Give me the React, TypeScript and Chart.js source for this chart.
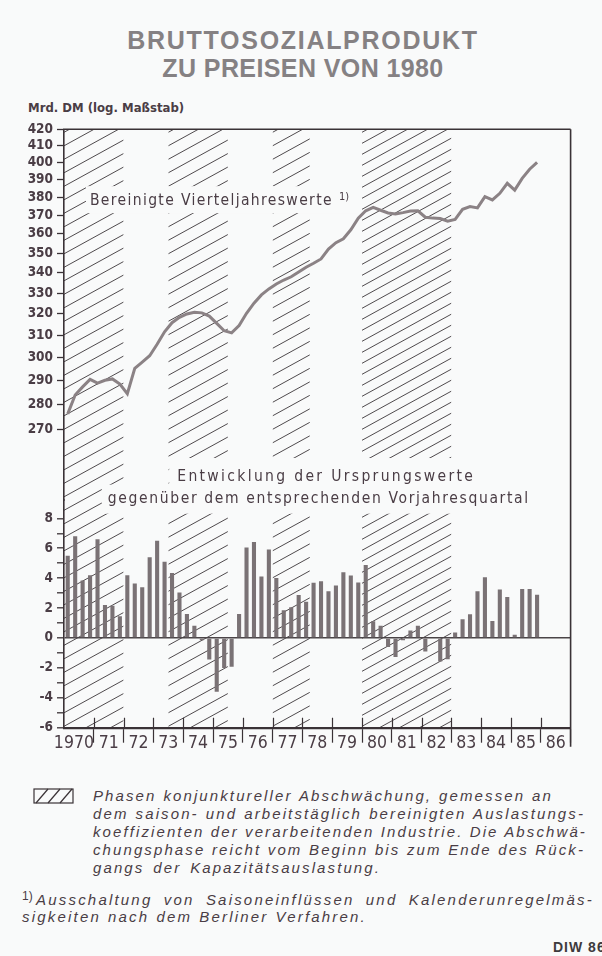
import React, { useEffect, useRef } from "react";
import { Chart, registerables } from "chart.js";

Chart.register(...registerables);

// ---------- data ----------
const firstYear = 1970;
const yearTicks = [1970, 1971, 1972, 1973, 1974, 1975, 1976, 1977, 1978, 1979, 1980, 1981, 1982, 1983, 1984, 1985, 1986, 1987];
const yearLabels = ["1970  ", "71", "72", "73", "74", "75", "76", "77", "78", "79", "80", "81", "82", "83", "84", "85", "86"];

// Bruttosozialprodukt, bereinigte Vierteljahreswerte, Mrd. DM (1970 Q1 .. 1985 Q4)
const gnpValues = [
  276.2, 284.0, 287.4, 290.6,
  289.0, 290.2, 290.8, 288.6,
  284.5, 295.4, 298.1, 300.9,
  306.0, 311.7, 315.9, 318.4,
  320.0, 320.8, 320.5, 319.0,
  315.6, 312.2, 311.2, 314.6,
  320.3, 325.1, 329.1, 332.0,
  334.4, 336.4, 338.0, 340.4,
  342.8, 344.8, 347.0, 352.1,
  355.4, 357.5, 362.2, 368.5,
  372.5, 374.4, 372.8, 371.3,
  370.8, 371.5, 372.4, 372.5,
  369.0, 368.5, 368.3, 366.8,
  367.8, 373.3, 374.8, 374.1,
  380.3, 378.5, 382.2, 387.9,
  384.0, 390.7, 396.0, 400.0,
];

// Veraenderung gegenueber Vorjahresquartal in % (1970 Q1 .. 1985 Q4)
const growthValues = [
  5.5, 6.8, 3.85, 4.2,
  6.6, 2.2, 2.15, 1.45,
  4.2, 3.65, 3.4, 5.4,
  6.5, 5.1, 4.35, 3.05,
  1.6, 0.82, -0.15, -1.43,
  -3.6, -2.0, -1.92, 1.6,
  6.05, 6.42, 4.12, 5.92,
  4.02, 1.85, 2.05, 2.88,
  2.43, 3.7, 3.8, 3.13,
  3.51, 4.4, 4.18, 3.71,
  4.88, 1.12, 0.82, -0.6,
  -1.27, -0.15, 0.5, 0.82,
  -0.9, -0.05, -1.57, -1.42,
  0.36, 1.25, 1.59, 3.13,
  4.07, 1.14, 3.24, 2.75,
  0.22, 3.27, 3.27, 2.89,
];

// Phasen konjunktureller Abschwaechung (Jahresbruchteile)
const phaseStart = [1970, 1973.5, 1977, 1980];
const phaseEnd = [1972, 1975.5, 1978.25, 1983];

const gnpTicks = [270, 280, 290, 300, 310, 320, 330, 340, 350, 360, 370, 380, 390, 400, 410, 420];
const growthTicks = [-6, -5, -4, -3, -2, -1, 0, 1, 2, 3, 4, 5, 6, 7, 8];

// ---------- styles ----------
const BG = "#f9fafa";
const INK = "#4a3d45";
const AXIS = "#3a3236";
const HATCH = "#4f4a4d";
const LINE = "#8b8285";
const BAR = "#7a7275";

const quarterX = (i: number) => firstYear + Math.floor(i / 4) + ((i % 4) + 0.5) / 4;

function drawFitted(ctx: CanvasRenderingContext2D, text: string, x: number, y: number, font: string, target: number, align: "left" | "center") {
  ctx.font = font;
  (ctx as any).letterSpacing = "0px";
  const w0 = ctx.measureText(text).width;
  const ls = (target - w0) / text.length;
  (ctx as any).letterSpacing = ls + "px";
  ctx.textAlign = "left";
  const startX = align === "center" ? x - target / 2 : x;
  ctx.fillText(text, startX, y);
  (ctx as any).letterSpacing = "0px";
  return startX;
}

const decor = {
  id: "decor",
  beforeDraw(chart: any) {
    const { ctx, chartArea: a, scales } = chart;
    const xs = scales.x;
    const yL = scales.yL;
    const yB = scales.yB;
    ctx.save();
    // hatched bands
    phaseStart.forEach((s, i) => {
      const x1 = xs.getPixelForValue(s);
      const x2 = xs.getPixelForValue(phaseEnd[i]);
      const gap = i === 3 ? 11 : 13.5;
      const rise = (x2 - x1) * 0.55;
      ctx.save();
      ctx.beginPath();
      ctx.rect(x1, a.top, x2 - x1, a.bottom - a.top);
      ctx.clip();
      ctx.beginPath();
      for (let y = a.top + 3; y < a.bottom + rise + gap; y += gap) {
        ctx.moveTo(x1, y);
        ctx.lineTo(x2, y - rise);
      }
      ctx.strokeStyle = HATCH;
      ctx.lineWidth = 1;
      ctx.stroke();
      ctx.restore();
    });

    ctx.fillStyle = INK;
    ctx.textBaseline = "alphabetic";
    const font = '15.5px "DejaVu Sans Condensed", sans-serif';

    // label upper chart
    const lx = xs.getPixelForValue(1970.87);
    const ly = yL.getPixelForValue(375.6);
    ctx.fillStyle = BG;
    ctx.fillRect(lx - 4, ly - 19, 272, 27);
    ctx.fillStyle = INK;
    drawFitted(ctx, "Bereinigte Vierteljahreswerte", lx, ly, font, 243, "left");
    ctx.font = '11px "DejaVu Sans Condensed", sans-serif';
    ctx.fillText("1)", lx + 249, ly - 5);

    // label lower chart
    const c1 = xs.getPixelForValue(1978.8);
    const b1 = yB.getPixelForValue(10.5);
    const c2 = xs.getPixelForValue(1978.55);
    const b2 = yB.getPixelForValue(9.05);
    ctx.fillStyle = BG;
    ctx.fillRect(c1 - 157, b1 - 23, 314, 30);
    ctx.fillRect(c2 - 217, b2 - 18, 434, 29);
    ctx.fillStyle = INK;
    drawFitted(ctx, "Entwicklung der Ursprungswerte", c1, b1, font, 298, "center");
    drawFitted(ctx, "gegenüber dem entsprechenden Vorjahresquartal", c2, b2, font, 422, "center");
    ctx.restore();
  },
  afterDraw(chart: any) {
    const { ctx, chartArea: a, scales } = chart;
    const xs = scales.x;
    ctx.save();
    ctx.strokeStyle = AXIS;
    ctx.lineWidth = 1.6;
    ctx.beginPath();
    ctx.moveTo(a.left - 1, a.top);
    ctx.lineTo(a.right, a.top);
    ctx.moveTo(a.right, a.top);
    ctx.lineTo(a.right, a.bottom + 19);
    ctx.stroke();
    ctx.lineWidth = 1.2;
    ctx.beginPath();
    yearTicks.slice(1, -1).forEach((v) => {
      const px = Math.round(xs.getPixelForValue(v)) + 0.5;
      ctx.moveTo(px, a.bottom);
      ctx.lineTo(px, a.bottom - 10);
    });
    ctx.stroke();
    ctx.restore();
  },
};

const tickFont = { family: '"DejaVu Sans Condensed", sans-serif', size: 13.5, weight: "bold" as const };

export default function App() {
  const ref = useRef<HTMLCanvasElement>(null);

  useEffect(() => {
    const canvas = ref.current;
    if (!canvas) return;
    const lineData = gnpValues.map((v, i) => ({ x: quarterX(i), y: v }));
    const barData = growthValues.map((v, i) => ({ x: quarterX(i), y: v }));

    const chart = new Chart(canvas, {
      type: "bar",
      data: {
        datasets: [
          {
            type: "line",
            data: lineData as any,
            xAxisID: "x",
            yAxisID: "yL",
            borderColor: LINE,
            borderWidth: 3,
            pointRadius: 0,
            tension: 0,
            order: 0,
          } as any,
          {
            type: "bar",
            data: barData as any,
            xAxisID: "x",
            yAxisID: "yB",
            backgroundColor: BAR,
            borderWidth: 0,
            barPercentage: 0.55,
            categoryPercentage: 1,
            order: 1,
          } as any,
        ],
      },
      options: {
        responsive: false,
        animation: false,
        events: [],
        layout: { padding: { top: 19.3, right: 31.4, left: 0, bottom: 0 } },
        plugins: { legend: { display: false }, tooltip: { enabled: false }, title: { display: false } },
        scales: {
          x: {
            type: "linear",
            position: "bottom",
            min: 1970,
            max: 1987,
            offset: false,
            afterBuildTicks: (s: any) => {
              s.ticks = yearTicks.map((v) => ({ value: v }));
            },
            afterFit: (s: any) => {
              s.height = 42.3;
            },
            ticks: {
              autoSkip: false,
              maxRotation: 0,
              minRotation: 0,
              labelOffset: 14.9,
              padding: -9.5,
              color: INK,
              font: { family: '"DejaVu Sans Condensed", sans-serif', size: 17.5 },
              callback: (v: any) => yearLabels[Number(v) - firstYear] ?? "",
            },
            grid: {
              offset: false,
              drawOnChartArea: false,
              drawTicks: true,
              tickLength: 15,
              tickWidth: 1.2,
              tickColor: (c: any) => (c.index === 0 ? "rgba(0,0,0,0)" : AXIS),
            },
            border: { display: true, color: AXIS, width: 2.2 },
          },
          yL: {
            type: "logarithmic",
            position: "left",
            stack: "left",
            stackWeight: 370.7,
            weight: 1,
            min: 243.3,
            max: 420,
            afterBuildTicks: (s: any) => {
              s.ticks = gnpTicks.map((v) => ({ value: v }));
            },
            afterFit: (s: any) => {
              s.width = 64;
            },
            ticks: {
              autoSkip: false,
              padding: 4,
              color: INK,
              font: tickFont,
              callback: (v: any) => String(v),
            },
            grid: {
              drawOnChartArea: false,
              drawTicks: true,
              tickLength: 7,
              tickWidth: 1.3,
              tickColor: AXIS,
            },
            border: { display: true, color: AXIS, width: 1.6 },
          },
          yB: {
            type: "linear",
            position: "left",
            stack: "left",
            stackWeight: 227.7,
            weight: 0,
            min: -6,
            max: 9.23,
            afterBuildTicks: (s: any) => {
              s.ticks = growthTicks.map((v) => ({ value: v }));
            },
            afterFit: (s: any) => {
              s.width = 64;
            },
            ticks: {
              autoSkip: false,
              padding: 4,
              color: INK,
              font: tickFont,
              callback: (v: any) => (Number(v) % 2 === 0 ? String(v) : ""),
            },
            grid: {
              drawOnChartArea: true,
              drawTicks: true,
              tickLength: 7,
              tickWidth: 1.3,
              tickColor: AXIS,
              lineWidth: 1.6,
              color: (c: any) => (c.tick && c.tick.value === 0 ? "#4a4447" : "rgba(0,0,0,0)"),
            },
            border: { display: true, color: AXIS, width: 1.6 },
          },
        } as any,
      },
      plugins: [decor as any],
    });
    return () => chart.destroy();
  }, []);

  const legendLine: React.CSSProperties = {
    whiteSpace: "nowrap",
    textAlign: "justify",
    textAlignLast: "justify" as any,
    height: 18,
    boxSizing: "border-box",
  };

  const titleLine: React.CSSProperties = {
    position: "absolute",
    left: 2,
    width: 602,
    textAlign: "center",
    font: 'bold 25px "Liberation Sans", Arial, sans-serif',
    lineHeight: "28px",
    color: "#858183",
    whiteSpace: "nowrap",
  };

  return (
    <div
      style={{
        position: "absolute",
        left: 0,
        top: 0,
        width: 602,
        height: 956,
        background: BG,
        overflow: "hidden",
        color: INK,
      }}
    >
      <div style={{ ...titleLine, top: 25.5, letterSpacing: "1.7px" }}>BRUTTOSOZIALPRODUKT</div>
      <div style={{ ...titleLine, top: 53.5, letterSpacing: "0.4px" }}>ZU PREISEN VON 1980</div>
      <div
        style={{
          position: "absolute",
          top: 100,
          left: 28,
          font: 'bold 13px "DejaVu Sans Condensed", sans-serif',
          lineHeight: "16px",
          letterSpacing: "0px",
          whiteSpace: "nowrap",
        }}
      >
        Mrd. DM (log. Maßstab)
      </div>
      <canvas ref={ref} width={602} height={660} style={{ position: "absolute", left: 0, top: 110, width: 602, height: 660 }} />

      <svg style={{ position: "absolute", left: 33, top: 788 }} width={42} height={17}>
        <rect x={1} y={1} width={39} height={14} fill="none" stroke={AXIS} strokeWidth={1.2} />
        <line x1={3} y1={15} x2={15} y2={1} stroke={AXIS} strokeWidth={1.2} />
        <line x1={15} y1={15} x2={27} y2={1} stroke={AXIS} strokeWidth={1.2} />
        <line x1={27} y1={15} x2={39} y2={1} stroke={AXIS} strokeWidth={1.2} />
      </svg>
      <div
        style={{
          position: "absolute",
          left: 93,
          top: 787,
          font: 'italic 15px "Liberation Sans", Arial, sans-serif',
          lineHeight: "18px",
          letterSpacing: "2.1px",
        }}
      >
        <div style={{ ...legendLine, width: 460 }}>Phasen konjunktureller Abschwächung, gemessen an</div>
        <div style={{ ...legendLine, width: 492 }}>dem saison- und arbeitstäglich bereinigten Auslastungs-</div>
        <div style={{ ...legendLine, width: 492 }}>koeffizienten der verarbeitenden Industrie. Die Abschwä-</div>
        <div style={{ ...legendLine, width: 492 }}>chungsphase reicht vom Beginn bis zum Ende des Rück-</div>
        <div style={{ ...legendLine, width: 288 }}>gangs der Kapazitätsauslastung.</div>
      </div>
      <div
        style={{
          position: "absolute",
          left: 22,
          top: 891,
          font: 'italic 15px "Liberation Sans", Arial, sans-serif',
          lineHeight: "17px",
          letterSpacing: "2.2px",
        }}
      >
        <div style={{ ...legendLine, position: "relative", width: 572, paddingLeft: 14, height: 17 }}>
          <span style={{ position: "absolute", left: 0, top: -3, fontStyle: "normal", fontSize: 12, letterSpacing: 0 }}>1)</span>
          Ausschaltung von Saisoneinflüssen und Kalenderunregelmäs-
        </div>
        <div style={{ ...legendLine, width: 345, height: 17 }}>sigkeiten nach dem Berliner Verfahren.</div>
      </div>
      <div
        style={{
          position: "absolute",
          left: 553,
          top: 939,
          font: 'bold 14px "Liberation Sans", Arial, sans-serif',
          lineHeight: "16px",
          letterSpacing: "1px",
          whiteSpace: "nowrap",
          color: "#3e3a3c",
        }}
      >
        DIW 86
      </div>
    </div>
  );
}
